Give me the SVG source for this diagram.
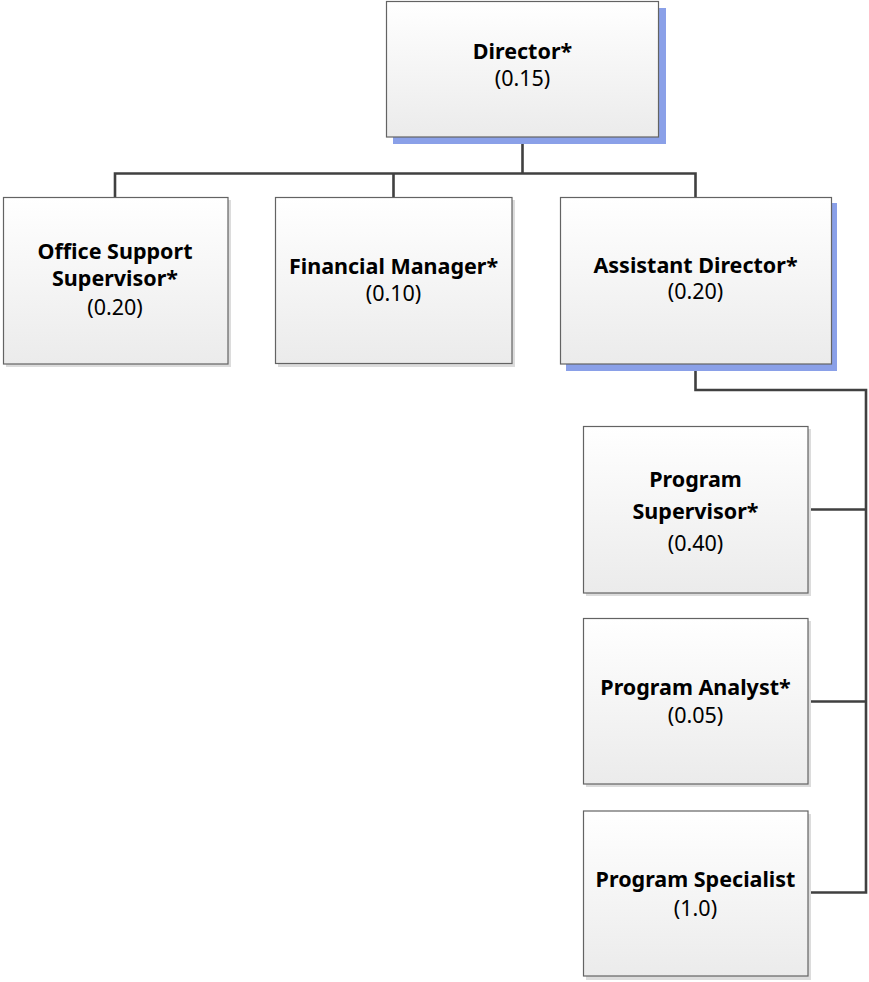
<svg xmlns="http://www.w3.org/2000/svg" width="869" height="982" viewBox="0 0 869 982">
<style>
.box{fill:url(#g);stroke:#636363;stroke-width:1.2}
.sh{fill:#dcdcdc}
.bsh{fill:#8aa0e8}
.t{font-family:"Noto Sans","Open Sans","Liberation Sans",sans-serif;font-size:21.5px;text-anchor:middle;fill:#000}
.b{font-weight:bold}
.c{fill:none;stroke:#404040;stroke-width:2.6}
</style>
<defs>
<linearGradient id="g" x1="0" y1="0" x2="0" y2="1">
<stop offset="0" stop-color="#ffffff"/>
<stop offset="1" stop-color="#ebebeb"/>
</linearGradient>
</defs>
<rect width="869" height="982" fill="#fff"/>
<g id="connectors">
<path class="c" d="M522.5 137V173.5M115 197V173.5H695.5V197M393.5 173.5V197"/>
<path class="c" d="M695.5 364V390H866V892.5H808M808 509.5H866M808 701.5H866"/>
</g>
<g id="director">
<rect class="bsh" x="393" y="8" width="273" height="136"/>
<rect class="box" x="386.5" y="1.5" width="272" height="135.5"/>
<text class="t b" x="522.5" y="59">Director*</text>
<text class="t" x="522.5" y="86">(0.15)</text>
</g>
<g id="office-support">
<rect class="sh" x="6" y="200" width="225" height="167"/>
<rect class="box" x="3.5" y="197.5" width="224.5" height="166.5"/>
<text class="t b" x="115" y="259">Office Support</text>
<text class="t b" x="115" y="286">Supervisor*</text>
<text class="t" x="115" y="315">(0.20)</text>
</g>
<g id="financial-manager">
<rect class="sh" x="278" y="200" width="237" height="167"/>
<rect class="box" x="275.5" y="197.5" width="236.5" height="166"/>
<text class="t b" x="393.5" y="274">Financial Manager*</text>
<text class="t" x="393.5" y="300.5">(0.10)</text>
</g>
<g id="assistant-director">
<rect class="bsh" x="566" y="203" width="271" height="168"/>
<rect class="box" x="560.5" y="197.5" width="271" height="166.5"/>
<text class="t b" x="695.5" y="272.5">Assistant Director*</text>
<text class="t" x="695.5" y="299">(0.20)</text>
</g>
<g id="program-supervisor">
<rect class="sh" x="586" y="429" width="225" height="167"/>
<rect class="box" x="583.5" y="426.5" width="224.5" height="166.5"/>
<text class="t b" x="695.5" y="486.5">Program</text>
<text class="t b" x="695.5" y="519">Supervisor*</text>
<text class="t" x="695.5" y="550.5">(0.40)</text>
</g>
<g id="program-analyst">
<rect class="sh" x="586" y="621" width="225" height="166"/>
<rect class="box" x="583.5" y="618.5" width="224.5" height="165.5"/>
<text class="t b" x="695.5" y="694.5">Program Analyst*</text>
<text class="t" x="695.5" y="723">(0.05)</text>
</g>
<g id="program-specialist">
<rect class="sh" x="586" y="814" width="225" height="166"/>
<rect class="box" x="583.5" y="811" width="224.5" height="165"/>
<text class="t b" x="695.5" y="886.5">Program Specialist</text>
<text class="t" x="695.5" y="916">(1.0)</text>
</g>
</svg>
